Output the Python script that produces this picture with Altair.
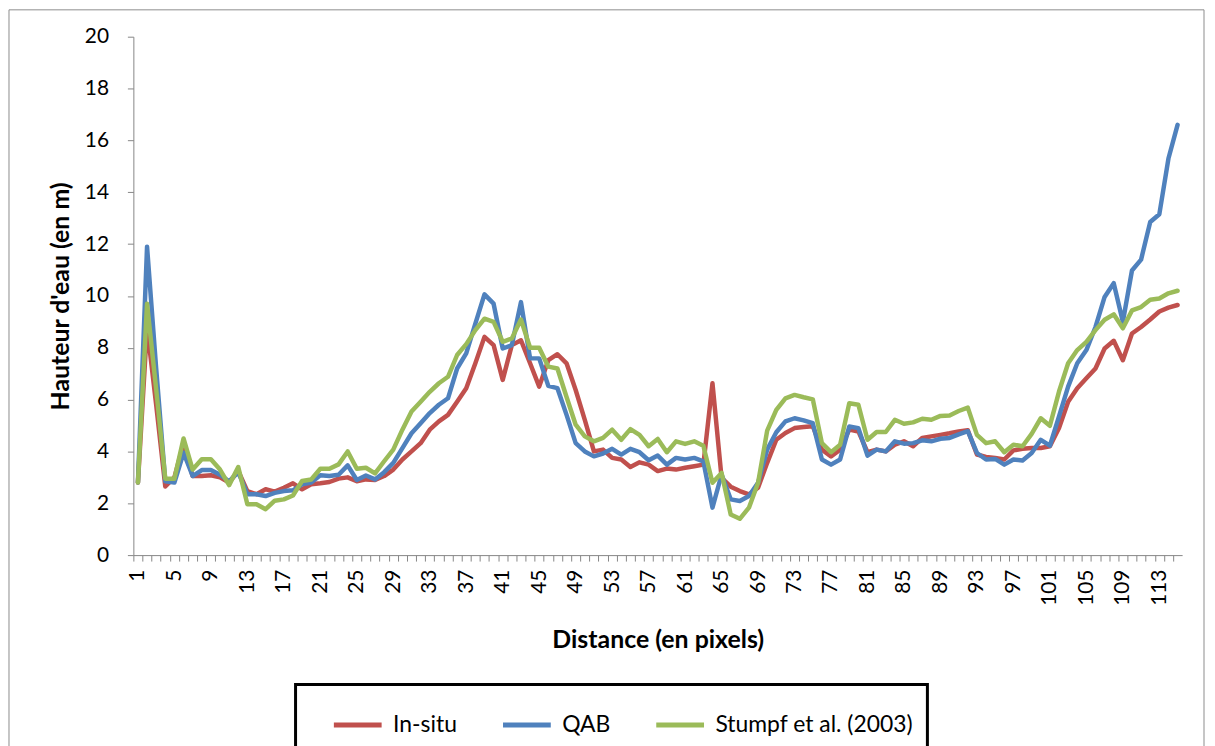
import altair as alt
import pandas as pd

# ---- data ----
distance = list(range(1, 116))

in_situ = [2.8, 8.8, 5.8, 2.65, 3.0, 4.3, 3.05, 3.05, 3.08, 3.0,
           2.8, 3.25, 2.47, 2.35, 2.54, 2.45, 2.6, 2.77, 2.54, 2.73,
           2.77, 2.82, 2.95, 3.0, 2.85, 2.92, 2.9, 3.05, 3.3, 3.69,
           4.0, 4.32, 4.84, 5.16, 5.41, 5.92, 6.44, 7.4, 8.42, 8.1,
           6.76, 8.1, 8.29, 7.4, 6.5, 7.52, 7.75, 7.4, 6.37, 5.22,
           4.0, 4.07, 3.75, 3.69, 3.4, 3.58, 3.49, 3.24, 3.34, 3.3,
           3.37, 3.43, 3.49, 6.63, 2.98, 2.64, 2.47, 2.34, 2.6, 3.56,
           4.45, 4.71, 4.9, 4.94, 4.97, 4.07, 3.81, 4.07, 4.84, 4.77,
           3.97, 4.07, 4.0, 4.26, 4.39, 4.2, 4.52, 4.58, 4.64, 4.7,
           4.77, 4.82, 3.88, 3.79, 3.75, 3.69, 4.04, 4.1, 4.13, 4.13,
           4.2, 4.9, 5.92, 6.44, 6.82, 7.2, 7.97, 8.27, 7.52, 8.55,
           8.8, 9.09, 9.4, 9.55, 9.65]

qab = [2.8, 11.9, 7.2, 2.85, 2.8, 3.95, 3.05, 3.28, 3.28, 3.1,
       2.85, 3.2, 2.35, 2.35, 2.28, 2.4, 2.47, 2.5, 2.73, 2.8,
       3.08, 3.05, 3.1, 3.46, 2.9, 3.07, 2.92, 3.2, 3.56, 4.13,
       4.7, 5.09, 5.48, 5.8, 6.05, 7.2, 7.78, 8.93, 10.06, 9.7,
       7.97, 8.1, 9.76, 7.59, 7.59, 6.53, 6.44, 5.41, 4.32, 4.0,
       3.81, 3.92, 4.1, 3.88, 4.1, 3.97, 3.66, 3.84, 3.49, 3.75,
       3.69, 3.75, 3.62, 1.83, 3.11, 2.15, 2.09, 2.28, 2.79, 4.07,
       4.74, 5.16, 5.28, 5.2, 5.09, 3.69, 3.49, 3.69, 4.96, 4.9,
       3.84, 4.07, 4.0, 4.39, 4.3, 4.32, 4.43, 4.39, 4.49, 4.52,
       4.66, 4.78, 3.94, 3.69, 3.71, 3.49, 3.69, 3.65, 3.94, 4.45,
       4.22, 5.35, 6.5, 7.4, 7.91, 8.8, 9.96, 10.49, 9.0, 10.98,
       11.4, 12.85, 13.15, 15.3, 16.6]

stumpf = [2.8, 9.7, 6.4, 2.95, 2.95, 4.5, 3.3, 3.7, 3.7, 3.3,
          2.7, 3.4, 1.96, 1.96, 1.77, 2.1, 2.15, 2.3, 2.86, 2.92,
          3.33, 3.33, 3.5, 4.0, 3.33, 3.37, 3.15, 3.62, 4.07, 4.84,
          5.54, 5.92, 6.3, 6.63, 6.88, 7.72, 8.14, 8.68, 9.12, 9.0,
          8.23, 8.36, 9.09, 8.0, 8.0, 7.27, 7.2, 6.1, 5.03, 4.58,
          4.39, 4.52, 4.84, 4.45, 4.86, 4.64, 4.2, 4.48, 3.97, 4.39,
          4.29, 4.39, 4.22, 2.79, 3.17, 1.57, 1.4, 1.83, 2.79, 4.8,
          5.6, 6.05, 6.18, 6.09, 6.01, 4.32, 3.97, 4.26, 5.86, 5.8,
          4.45, 4.75, 4.75, 5.22, 5.07, 5.12, 5.26, 5.22, 5.37, 5.39,
          5.56, 5.69, 4.64, 4.32, 4.39, 3.97, 4.26, 4.2, 4.68, 5.28,
          4.99, 6.31, 7.4, 7.91, 8.23, 8.68, 9.08, 9.29, 8.75, 9.44,
          9.57, 9.85, 9.9, 10.1, 10.2]

series_names = ["In-situ", "QAB", "Stumpf et al. (2003)"]
series_colors = ["#C0504D", "#4F81BD", "#9BBB59"]
x_tick_labels = [str(v) for v in range(1, 116, 4)]
y_ticks = [0, 2, 4, 6, 8, 10, 12, 14, 16, 18, 20]

rows = []
for name, vals in zip(series_names, [in_situ, qab, stumpf]):
    for d, v in zip(distance, vals):
        rows.append({"distance": d, "hauteur": v, "serie": name})
df = pd.DataFrame(rows)

# ---- layout ----
W = 1054
H = 521
N = len(distance)
half = W / N / 2.0
FONT = "Lato"
GRAY = "#868686"

label_list = "[" + ",".join("'" + s + "'" for s in x_tick_labels) + "]"

lines = alt.Chart(df).mark_line(
    strokeWidth=4.5, strokeJoin="round", strokeCap="round"
).encode(
    x=alt.X(
        "distance:Q",
        title="Distance (en pixels)",
        scale=alt.Scale(domain=[0.5, N + 0.5], nice=False, zero=False),
        axis=alt.Axis(
            values=list(range(1, N + 2)),
            labelExpr="indexof(" + label_list + ", datum.label) >= 0 ? datum.label : ''",
            labelAngle=270,
            labelOverlap=False,
            tickOffset=-half,
            labelOffset=half,
            tickSize=6,
            labelPadding=8,
            titlePadding=22,
            labelFontSize=21,
            titleFontSize=25,
        ),
    ),
    y=alt.Y(
        "hauteur:Q",
        title="Hauteur d'eau (en m)",
        scale=alt.Scale(domain=[0, 20], nice=False, zero=True),
        axis=alt.Axis(
            values=y_ticks,
            tickSize=6,
            labelPadding=19,
            titlePadding=11,
            labelFontSize=21,
            titleFontSize=25,
        ),
    ),
    color=alt.Color(
        "serie:N",
        scale=alt.Scale(domain=series_names, range=series_colors),
        legend=alt.Legend(
            title=" ",
            titleOrient="left",
            titleFontSize=1,
            titlePadding=22,
            orient="none",
            legendX=163,
            legendY=651,
            direction="horizontal",
            symbolType="stroke",
            symbolSize=2304,
            symbolStrokeWidth=5,
            labelFontSize=23,
            labelFont=FONT,
            labelColor="black",
            labelLimit=400,
            labelOffset=9,
            columnPadding=35,
            padding=14,
            strokeColor="black",
        ),
    ),
)

frame = alt.Chart(pd.DataFrame({"f": [0]})).mark_rect(
    fillOpacity=0, stroke="#8c8c8c", strokeWidth=1
).encode(
    x=alt.value(-125), x2=alt.value(1076), y=alt.value(-27), y2=alt.value(730)
)

chart = alt.layer(frame, lines).properties(
    width=W,
    height=H,
    autosize=alt.AutoSizeParams(type="none"),
    padding={"left": 126, "top": 27, "right": 25, "bottom": 190},
).configure_view(
    stroke=None
).configure_axis(
    grid=False,
    domainColor=GRAY,
    tickColor=GRAY,
    domainWidth=1,
    tickWidth=1,
    labelColor="black",
    titleColor="black",
    labelFont=FONT,
    titleFont=FONT,
    titleFontWeight="bold",
).configure_legend(
    strokeWidth=3
)

chart.save("out.html", embed_options={"renderer": "svg", "actions": False})
